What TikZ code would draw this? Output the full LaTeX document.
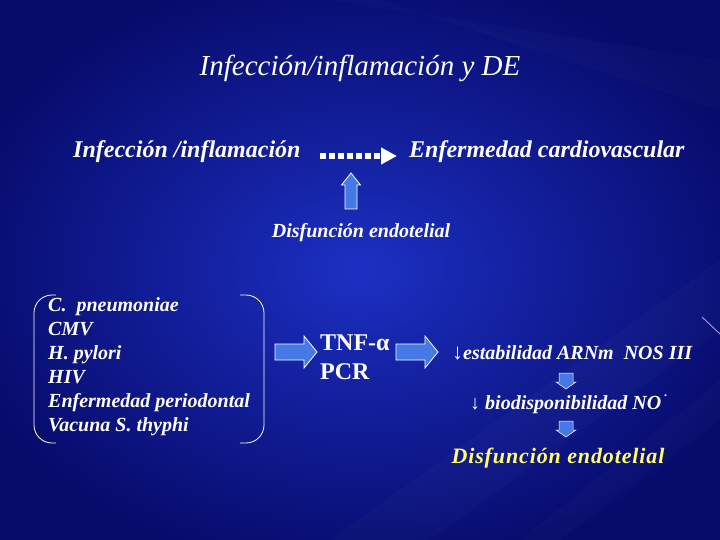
\documentclass[tikz,border=0pt]{standalone}
\usepackage{fontspec}
\setmainfont{Liberation Serif}
\usetikzlibrary{arrows.meta}
\definecolor{bgdark}{RGB}{6,10,105}
\definecolor{bglight}{RGB}{28,48,195}
\definecolor{arrowblue}{RGB}{70,120,230}
\definecolor{txtyellow}{RGB}{255,255,110}
\tikzset{
  lbl/.style={text=white, inner sep=0pt, anchor=west},
  bi/.style={lbl, font=\fontsize{20}{20}\selectfont\bfseries\itshape},
  barrow/.pic={\draw[fill=arrowblue, draw=white, line width=0.8pt]
     (-21,-8) -- (8,-8) -- (8,-16) -- (21,0) -- (8,16) -- (8,8) -- (-21,8) -- cycle;},
  uarrow/.pic={\draw[fill=arrowblue, draw=white, line width=0.8pt]
     (-18,-6) -- (6,-6) -- (6,-9.5) -- (18,0) -- (6,9.5) -- (6,6) -- (-18,6) -- cycle;},
  darrow/.pic={\draw[fill=arrowblue, draw=white, line width=0.5pt]
     (-8,-7) -- (1,-7) -- (1,-10) -- (8,0) -- (1,10) -- (1,7) -- (-8,7) -- cycle;},
  bracket/.style={draw=white, line width=0.8pt, rounded corners=18pt}
}
\begin{document}
\begin{tikzpicture}[x=1pt,y=-1pt]
\useasboundingbox (0,0) rectangle (720,540);
\shade[inner color=bglight, outer color=bgdark] (-60,-40) rectangle (780,580);
\fill[white, opacity=0.02] (720,260) -- (720,330) -- (430,540) -- (330,540) -- cycle;
\fill[white, opacity=0.02] (720,380) -- (720,420) -- (560,540) -- (520,540) -- cycle;
\fill[white, opacity=0.02] (720,60) -- (720,110) -- (380,0) -- (330,0) -- cycle;
\draw[color={rgb,255:red,170;green,150;blue,235}, line width=0.9pt] (702,317) -- (720,334);

\node[lbl, anchor=center, font=\fontsize{29}{29}\selectfont\itshape] (title) at (360,68) {Infección/inflamación y DE};
\node[lbl, font=\fontsize{24}{24}\selectfont\bfseries\itshape] (inf) at (73,152) {Infección /inflamación};
\node[lbl, font=\fontsize{24}{24}\selectfont\bfseries\itshape] (ecv) at (409,152) {Enfermedad cardiovascular};
\coordinate (ds) at (320,156);
\coordinate (de) at (397,156);
\draw[white, line width=5.5pt, dash pattern=on 5.5pt off 3.5pt, -{Triangle[length=16pt,width=16pt]}] (ds) -- (de);

\node[bi, anchor=center] (de1) at (361,233) {Disfunción endotelial};
\pic[rotate=90] at (351,191) {uarrow};

\node[bi, align=left, font=\fontsize{20}{24}\selectfont\bfseries\itshape, anchor=north west] (list) at (48,297)
 {C.\ \ pneumoniae\\CMV\\H. pylori\\HIV\\Enfermedad periodontal\\Vacuna S. thyphi};
\draw[bracket] (56,295) -- (34,295) -- (34,443) -- (56,443);
\draw[bracket] (240,295) -- (264,295) -- (264,443) -- (240,443);

\pic at (296,352) {barrow};
\node[lbl, align=left, font=\fontsize{24}{29}\selectfont\bfseries, anchor=north west] (tnf) at (320,335) {TNF-α\\PCR};
\pic at (417,352) {barrow};

\node[bi] (est) at (452,353) {{\fontsize{22}{22}\selectfont\upshape\mdseries ↓}estabilidad ARNm\ \ NOS III};
\pic[rotate=-90] at (566,381) {darrow};
\node[bi] (bio) at (470,405) {{\fontsize{20}{20}\selectfont\upshape\mdseries ↓} biodisponibilidad NO};
\node[lbl, font=\fontsize{12}{12}\selectfont\bfseries] (dot) at (664,396) {.};
\pic[rotate=-90] at (566,429) {darrow};
\node[lbl, text=txtyellow, font=\fontsize{22}{22}\selectfont\bfseries\itshape, anchor=center] (de2) at (558,458)
 {\addfontfeatures{LetterSpace=4}Disfunción endotelial};
\end{tikzpicture}
\end{document}
